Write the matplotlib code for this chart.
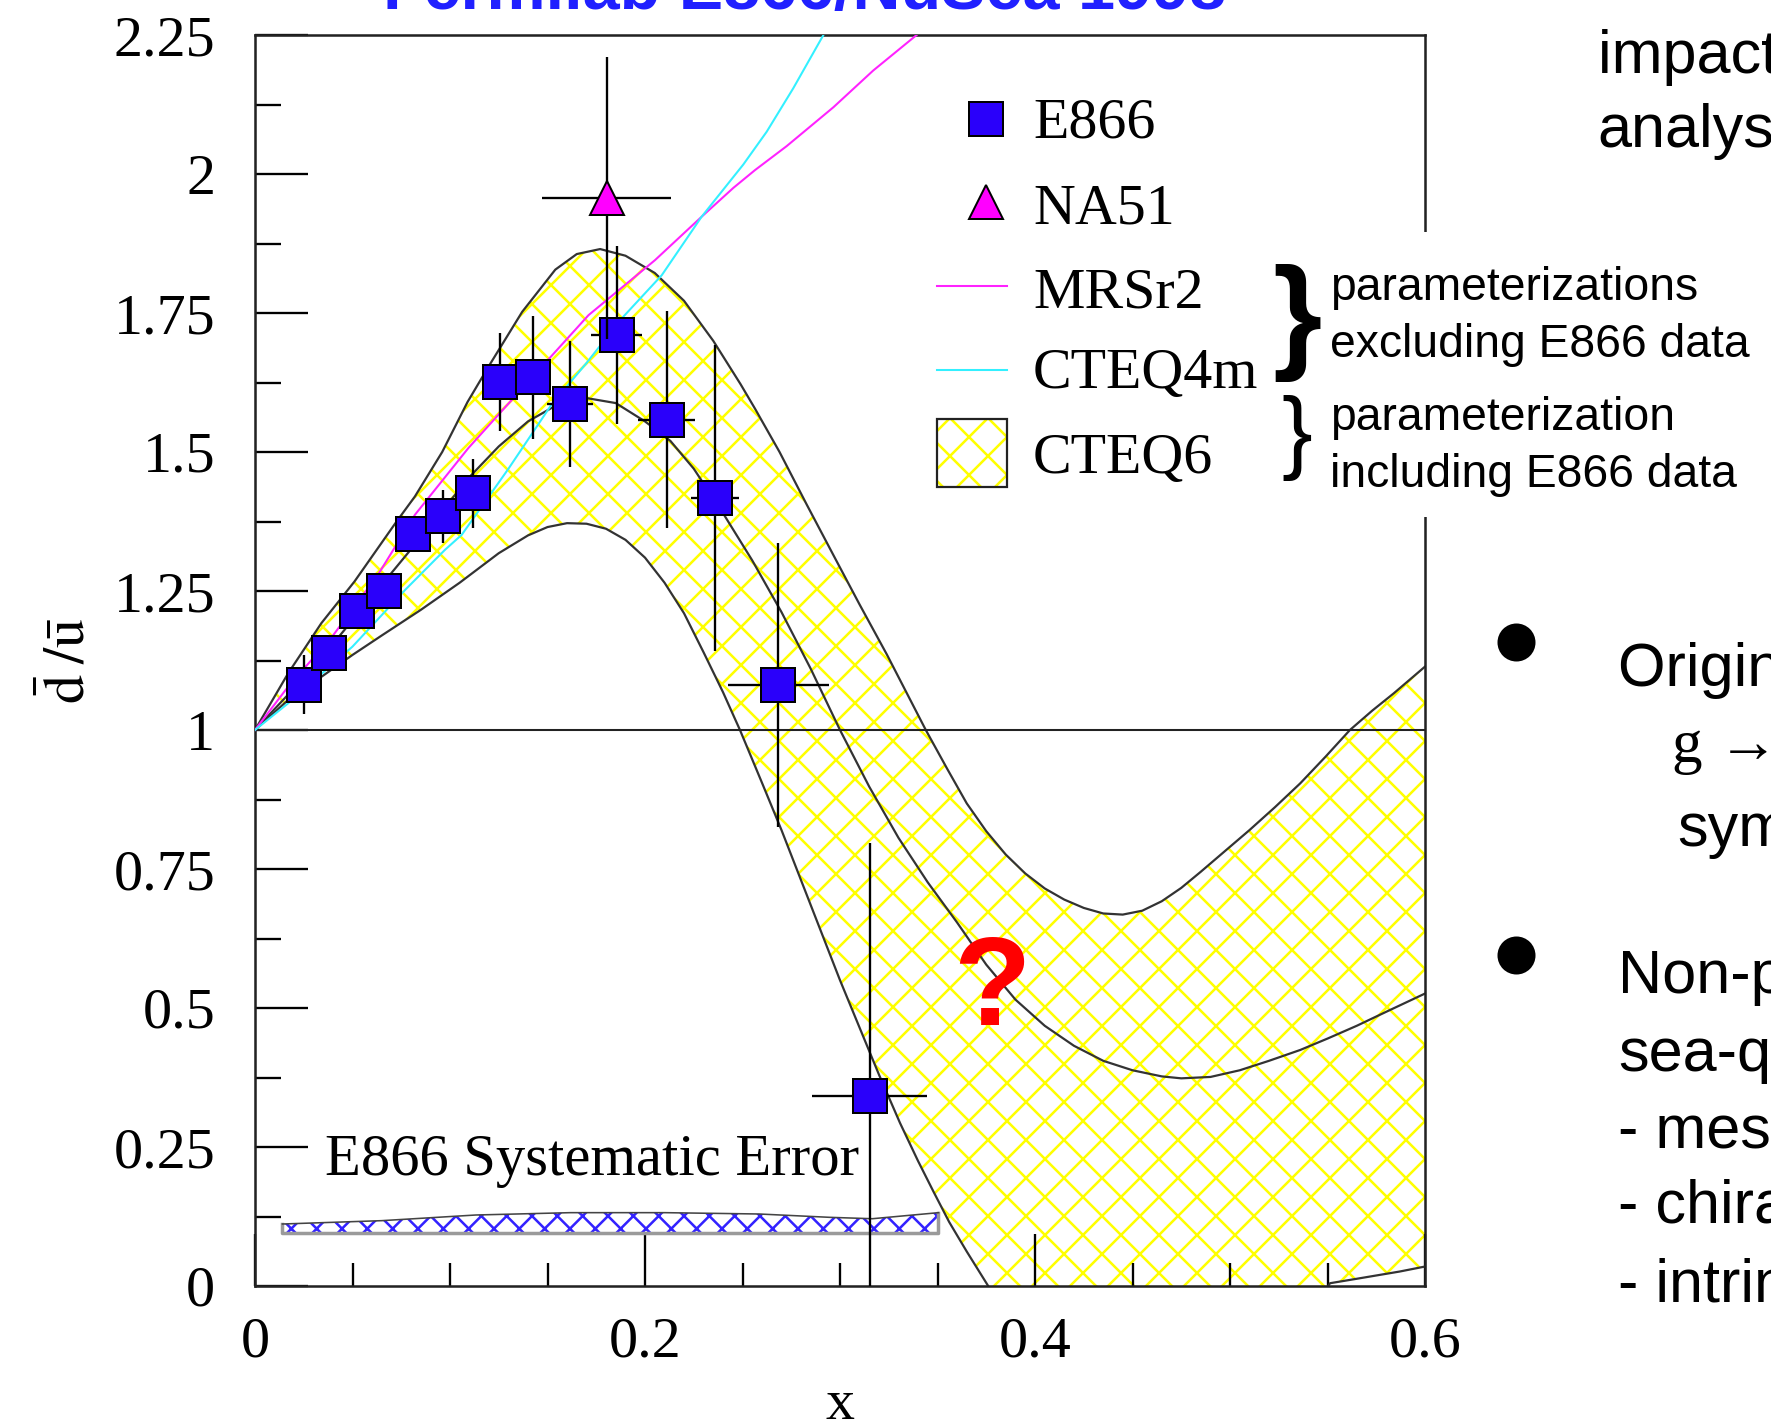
import numpy as np
import matplotlib
matplotlib.use("Agg")
import matplotlib.pyplot as plt
from matplotlib.lines import Line2D
from matplotlib.patches import Rectangle
from matplotlib.ticker import MultipleLocator, FuncFormatter

# E866 dbar/ubar ratio (Fermilab E866/NuSea)
e866_x = [0.0253, 0.0381, 0.0521, 0.0662, 0.0812, 0.0966, 0.112, 0.1256, 0.1424,
          0.1615, 0.1855, 0.2111, 0.2359, 0.2684, 0.3152]
e866_y = [1.081, 1.139, 1.214, 1.250, 1.353, 1.384, 1.426, 1.626, 1.634,
          1.586, 1.710, 1.558, 1.417, 1.081, 0.342]
e866_yerr = [0.053, 0.028, 0.028, 0.028, 0.028, 0.048, 0.062, 0.088, 0.110,
             0.113, 0.160, 0.195, 0.275, 0.255, 0.455]
e866_xerr = [0.004, 0.004, 0.004, 0.004, 0.005, 0.005, 0.006, 0.006, 0.007,
             0.012, 0.013, 0.0145, 0.0124, 0.026, 0.0295]

# NA51
na51_x = [0.1803]
na51_y = [1.957]
na51_yerr = [0.253]
na51_xerr = [0.033]

# CTEQ6 band (upper / central / lower)
up_x = [0, 0.017, 0.034, 0.051, 0.072, 0.082, 0.096, 0.109, 0.12, 0.137, 0.154, 0.165,
        0.177, 0.19, 0.205, 0.22, 0.235, 0.249, 0.2564, 0.269, 0.283, 0.297, 0.31, 0.324,
        0.334, 0.344, 0.355, 0.365, 0.375, 0.385, 0.395, 0.405, 0.415, 0.425, 0.435,
        0.445, 0.455, 0.465, 0.475, 0.485, 0.498, 0.51, 0.523, 0.536, 0.549, 0.5615,
        0.573, 0.584, 0.6]
up_y = [1.0, 1.102, 1.192, 1.267, 1.372, 1.42, 1.50, 1.59, 1.655, 1.752, 1.828, 1.856,
        1.865, 1.853, 1.822, 1.772, 1.700, 1.622, 1.578, 1.500, 1.405, 1.312, 1.226, 1.136,
        1.068, 1.0, 0.930, 0.868, 0.818, 0.776, 0.742, 0.715, 0.695, 0.680, 0.670,
        0.668, 0.675, 0.692, 0.716, 0.745, 0.784, 0.820, 0.861, 0.904, 0.952, 1.0,
        1.035, 1.066, 1.114]

mid_x = [0, 0.02, 0.04, 0.06, 0.08, 0.095, 0.11, 0.125, 0.14, 0.155, 0.17, 0.185, 0.2,
         0.213, 0.225, 0.24, 0.255, 0.27, 0.285, 0.3, 0.315, 0.33, 0.345, 0.36, 0.375,
         0.39, 0.405, 0.42, 0.435, 0.45, 0.465, 0.475, 0.49, 0.505, 0.52, 0.536, 0.55,
         0.565, 0.58, 0.6]
mid_y = [1.0, 1.075, 1.155, 1.24, 1.325, 1.39, 1.455, 1.51, 1.555, 1.585, 1.597, 1.588,
         1.555, 1.52, 1.47, 1.39, 1.305, 1.212, 1.11, 1.0, 0.898, 0.806, 0.726, 0.654,
         0.578, 0.515, 0.468, 0.432, 0.405, 0.388, 0.377, 0.3735, 0.376, 0.388, 0.405,
         0.4245, 0.445, 0.468, 0.493, 0.526]

lo_x = [0, 0.017, 0.035, 0.05, 0.065, 0.085, 0.105, 0.125, 0.14, 0.15, 0.16, 0.17, 0.18,
        0.19, 0.2, 0.21, 0.22, 0.23, 0.24, 0.2487, 0.26, 0.27, 0.28, 0.29, 0.30, 0.31,
        0.32, 0.3308, 0.34, 0.3479, 0.356, 0.365, 0.376, 0.39, 0.42, 0.46, 0.5, 0.53,
        0.5513, 0.565, 0.587, 0.6]
lo_y = [1.0, 1.054, 1.098, 1.135, 1.17, 1.216, 1.265, 1.318, 1.35, 1.365, 1.372, 1.371,
        1.362, 1.342, 1.31, 1.265, 1.21, 1.14, 1.068, 1.0, 0.905, 0.82, 0.73, 0.64, 0.55,
        0.465, 0.38, 0.293, 0.225, 0.17, 0.115, 0.062, 0.0, -0.08, -0.2, -0.27, -0.22,
        -0.1, 0.005, 0.013, 0.026, 0.035]

# MRSr2 and CTEQ4m parameterizations
mrs_x = [0, 0.017, 0.04, 0.0632, 0.082, 0.1094, 0.14, 0.171, 0.2051, 0.229, 0.2453,
         0.2564, 0.2726, 0.2966, 0.317, 0.3393, 0.35]
mrs_y = [1.0, 1.078, 1.17, 1.28, 1.387, 1.507, 1.626, 1.746, 1.845, 1.923, 1.975,
         2.007, 2.050, 2.120, 2.186, 2.25, 2.28]
cteq4_x = [0, 0.017, 0.05, 0.077, 0.0974, 0.106, 0.13, 0.152, 0.17, 0.188, 0.2086, 0.229,
           0.2504, 0.2624, 0.276, 0.2915, 0.30]
cteq4_y = [1.0, 1.048, 1.15, 1.252, 1.324, 1.351, 1.47, 1.585, 1.66, 1.74, 1.818, 1.923,
           2.017, 2.076, 2.154, 2.25, 2.30]

# E866 systematic error band
sys_x = [0.0141, 0.0649, 0.1133, 0.1617, 0.2101, 0.2585, 0.2948, 0.3166, 0.3505]
sys_hi = [0.1115, 0.1175, 0.1277, 0.1319, 0.1319, 0.1295, 0.1235, 0.121, 0.1319]
sys_lo = [0.095] * len(sys_x)

W, H, DPI = 1771, 1425, 228

plt.rcParams["font.family"] = ["Liberation Serif", "DejaVu Serif"]
plt.rcParams["mathtext.fontset"] = "stix"
plt.rcParams["hatch.linewidth"] = 0.8

fig = plt.figure(figsize=(W / DPI, H / DPI), dpi=DPI)
ax = fig.add_axes([255 / W, 1 - 1286 / H, 1170 / W, 1251 / H])


def fpos(X, Y):
    # pixel position -> figure fraction
    return X / W, 1 - Y / H


# CTEQ6 hatched band
ax.fill(np.r_[up_x, lo_x[::-1]], np.r_[up_y, lo_y[::-1]], facecolor="none",
        edgecolor="#ffff00", hatch="xx", lw=0, zorder=1)
for cx, cy in [(up_x, up_y), (mid_x, mid_y), (lo_x, lo_y)]:
    ax.plot(cx, cy, color="#333333", lw=0.7, zorder=2)

ax.axhline(1.0, color="#222222", lw=0.65, zorder=2)

ax.plot(mrs_x, mrs_y, color="#ff22ff", lw=0.65, zorder=3)
ax.plot(cteq4_x, cteq4_y, color="#33f0ff", lw=0.65, zorder=3)

# systematic error band
ax.fill_between(sys_x, sys_lo, sys_hi, facecolor="none", edgecolor="#3322ff",
                hatch="xxx", lw=0, zorder=2)
ax.plot([sys_x[0], sys_x[0], sys_x[-1], sys_x[-1]],
        [sys_hi[0], sys_lo[0], sys_lo[-1], sys_hi[-1]], color="#9a9a9a", lw=1.1, zorder=2)
ax.plot(sys_x, sys_hi, color="#444444", lw=0.5, zorder=2)
ax.text(0.036, 0.2, "E866 Systematic Error", fontsize=18.5, va="baseline", ha="left")

# data points
ax.errorbar(e866_x, e866_y, yerr=e866_yerr, xerr=e866_xerr, fmt="s", ms=11,
            mfc="#2a00fa", mec="black", mew=0.63, ecolor="black", elinewidth=0.73,
            capsize=0, zorder=4)
ax.errorbar(na51_x, na51_y, yerr=na51_yerr, xerr=na51_xerr, fmt="^", ms=11,
            mfc="#ff00ff", mec="black", mew=0.63, ecolor="black", elinewidth=0.73,
            capsize=0, zorder=5)

ax.text(0.378, 0.469, "?", color="#ff0000", fontsize=40, fontweight="bold",
        family="Liberation Sans", ha="center", va="baseline", zorder=6)

ax.set_xlim(0, 0.6)
ax.set_ylim(0, 2.25)
ax.xaxis.set_major_locator(MultipleLocator(0.2))
ax.xaxis.set_minor_locator(MultipleLocator(0.05))
ax.yaxis.set_major_locator(MultipleLocator(0.25))
ax.yaxis.set_minor_locator(MultipleLocator(0.125))
fmt = FuncFormatter(lambda v, p: "%g" % round(v, 3))
ax.xaxis.set_major_formatter(fmt)
ax.yaxis.set_major_formatter(fmt)
ax.tick_params(which="both", direction="in", width=0.73, color="black",
               top=False, right=False, labelsize=18.3)
ax.tick_params(axis="y", which="major", length=16.7, pad=12.6)
ax.tick_params(axis="y", which="minor", length=8.2)
ax.tick_params(axis="x", which="major", length=16.4, pad=9.5)
ax.tick_params(axis="x", which="minor", length=7.3)
for s in ax.spines.values():
    s.set_linewidth(0.8)
    s.set_color("#222222")

ax.set_xlabel("x", fontsize=18.3, va="baseline")
ax.xaxis.set_label_coords(0.5, -0.1063)
ax.set_ylabel(r"$\bar{\mathrm{d}}\;/\bar{\mathrm{u}}$", fontsize=18.3, va="baseline")
ax.yaxis.set_label_coords(-0.1453, 0.5)

# legend
sq = Line2D([fpos(986, 119)[0]], [fpos(986, 119)[1]], marker="s", ms=11, mfc="#2a00fa",
            mec="black", mew=0.63, ls="none", transform=fig.transFigure)
tri = Line2D([fpos(986, 202)[0]], [fpos(986, 202)[1]], marker="^", ms=11, mfc="#ff00ff",
             mec="black", mew=0.63, ls="none", transform=fig.transFigure)
fig.add_artist(sq)
fig.add_artist(tri)
for yy, col in [(286, "#ff22ff"), (370, "#33f0ff")]:
    x0, y0 = fpos(937, yy)
    x1, _ = fpos(1007, yy)
    fig.add_artist(Line2D([x0, x1], [y0, y0], color=col, lw=0.65, transform=fig.transFigure))
bx, by = fpos(937, 487)
fig.add_artist(Rectangle((bx, by), 70 / W, 68 / H, transform=fig.transFigure,
                         facecolor="none", edgecolor="#ffff00", hatch="xx", lw=0))
fig.add_artist(Rectangle((bx, by), 70 / W, 68 / H, transform=fig.transFigure,
                         facecolor="none", edgecolor="#222222", lw=0.7))
for lab, yb in [("E866", 138), ("NA51", 223), ("MRSr2", 307), ("CTEQ4m", 388), ("CTEQ6", 473)]:
    tx, ty = fpos(1033, yb)
    fig.text(tx, ty, lab, fontsize=18.3, va="baseline", ha="left")

# note box on the right of the legend
rx, ry = fpos(1265, 517)
fig.add_artist(Rectangle((rx, ry), (W - 1265) / W, (517 - 232) / H, transform=fig.transFigure,
                         facecolor="white", edgecolor="none", zorder=3))
sans = "Liberation Sans"
tx, ty = fpos(1272, 323)
fig.text(tx, ty, "}", fontsize=40, fontweight="bold", family=sans, va="center", zorder=4)
tx, ty = fpos(1281, 438)
fig.text(tx, ty, "}", fontsize=29, family=sans, va="center", zorder=4)
for txt, yb in [("parameterizations", 300), ("excluding E866 data", 357),
                ("parameterization", 430), ("including E866 data", 487)]:
    tx, ty = fpos(1330, yb)
    fig.text(tx, ty, txt, fontsize=14.6, family=sans, va="baseline", zorder=4)

# slide text on the right
for txt, X, yb, fam in [("impact on the", 1598, 73, sans),
                        ("analysis", 1597, 147, sans),
                        ("Origin of", 1618, 686, sans),
                        ("g \u2192 q q\u0304", 1672, 762, ["Liberation Serif", "DejaVu Serif"]),
                        ("symmetric", 1677, 846, sans),
                        ("Non-perturbative", 1618, 993, sans),
                        ("sea-quark", 1618, 1071, sans),
                        ("- meson cloud", 1618, 1147, sans),
                        ("- chiral quark", 1618, 1223, sans),
                        ("- intrinsic sea", 1618, 1302, sans)]:
    tx, ty = fpos(X, yb)
    fig.text(tx, ty, txt, fontsize=19.3, family=fam, va="baseline", ha="left")
for yy in [642, 955]:
    bx, by = fpos(1516, yy)
    fig.add_artist(Line2D([bx], [by], marker="o", ms=11, color="black", ls="none",
                          transform=fig.transFigure))

tx, ty = fpos(805, 9)
fig.text(tx, ty, "Fermilab E866/NuSea 1998", fontsize=21, fontweight="bold", family=sans,
         color="#2020ff", ha="center", va="baseline")

fig.savefig("out.png", dpi=DPI)
